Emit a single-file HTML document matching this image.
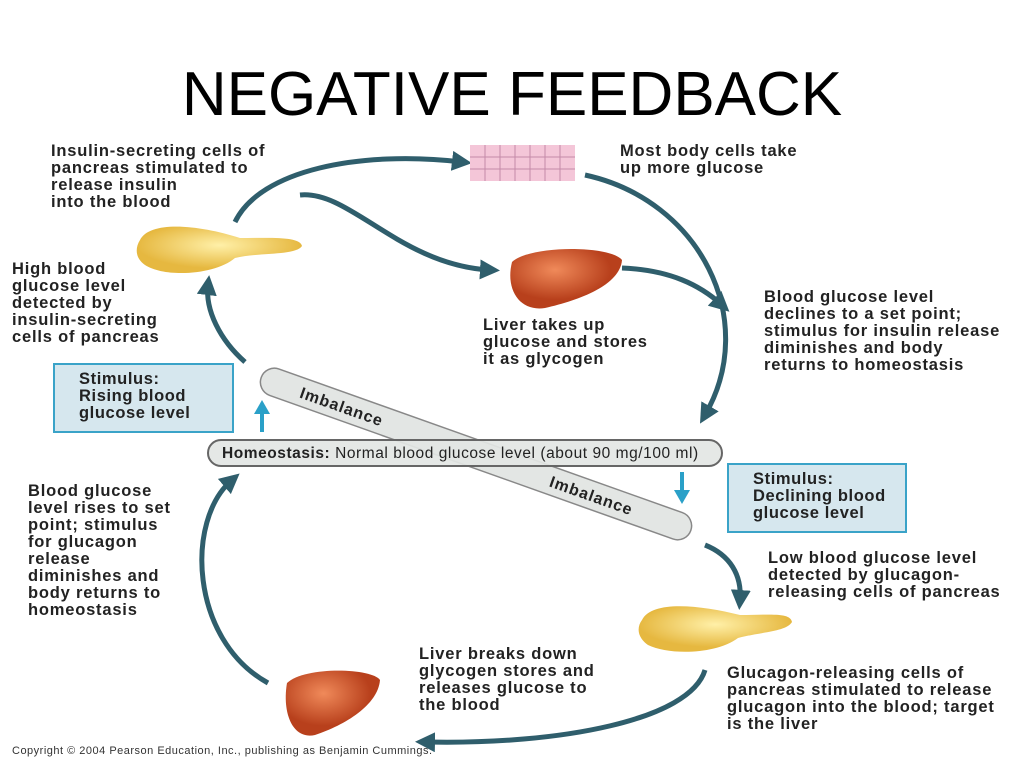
<!DOCTYPE html>
<html><head><meta charset="utf-8"><style>
body{margin:0;width:1024px;height:768px;background:#fff;overflow:hidden;position:relative;font-family:"Liberation Sans",sans-serif}
.t{position:absolute;font-weight:bold;font-size:16.5px;letter-spacing:0.8px;line-height:17px;color:#222;white-space:nowrap}
h1{position:absolute;left:0;width:1024px;top:62px;margin:0;text-align:center;font-weight:normal;font-size:62px;line-height:66px;color:#000}
.box{position:absolute;border:2px solid #3aa3c8;background:#d6e7ee;font-weight:bold;font-size:16.5px;letter-spacing:0.6px;line-height:17px;color:#222;box-sizing:border-box;padding:6px 0 0 24px;white-space:nowrap}
</style></head><body>
<h1>NEGATIVE FEEDBACK</h1>
<svg width="1024" height="768" style="position:absolute;left:0;top:0">
<defs>
<marker id="a" markerWidth="4" markerHeight="4" refX="2" refY="2" orient="auto" markerUnits="strokeWidth"><path d="M0,0 L4,2 L0,4z" fill="#2f5e6c"/></marker>
<radialGradient id="lv" cx="40%" cy="35%"><stop offset="0" stop-color="#f08a5a"/><stop offset="1" stop-color="#b8401c"/></radialGradient>
<radialGradient id="pc" cx="50%" cy="40%"><stop offset="0" stop-color="#fff0a8"/><stop offset="1" stop-color="#e6b840"/></radialGradient>
</defs>
<g fill="none" stroke="#2f5e6c" stroke-width="5" marker-end="url(#a)">
<path d="M235,222 C260,170 360,150 462,162"/>
<path d="M585,175 C700,200 760,320 705,415"/>
<path d="M300,195 C350,190 400,265 490,270"/>
<path d="M622,268 C670,270 700,285 722,305"/>
<path d="M245,362 C220,340 205,310 208,285"/>
<path d="M705,545 C730,555 742,575 740,600"/>
<path d="M705,670 C690,720 560,745 425,742"/>
<path d="M268,683 C190,640 185,520 232,480"/>
</g>
<g transform="rotate(19.6 476 454)">
<rect x="248" y="440" width="456" height="28" rx="14" fill="#e3e6e4" stroke="#888" stroke-width="1.5"/>
<text x="290" y="460" font-family="Liberation Sans" font-weight="bold" font-size="16" letter-spacing="1" fill="#222">Imbalance</text>
<text x="555" y="460" font-family="Liberation Sans" font-weight="bold" font-size="16" letter-spacing="1" fill="#222">Imbalance</text>
</g>
<rect x="208" y="440" width="514" height="26" rx="13" fill="#e3e6e4" stroke="#666" stroke-width="2" fill-opacity="0.92"/>
<text x="222" y="458" font-family="Liberation Sans" font-size="15.5" letter-spacing="0.55" fill="#222"><tspan font-weight="bold">Homeostasis:</tspan> Normal blood glucose level (about 90 mg/100 ml)</text>
<g stroke="#2aa0c8" stroke-width="4" fill="#2aa0c8">
<line x1="262" y1="432" x2="262" y2="412"/><path d="M254,414 L262,400 L270,414z" stroke="none"/>
<line x1="682" y1="472" x2="682" y2="492"/><path d="M674,490 L682,504 L690,490z" stroke="none"/>
</g>
<rect x="470" y="145" width="105" height="36" fill="#f4c6d8"/>
<g stroke="#c48aa8" stroke-width="1" fill="none">
<path d="M470,157 H575 M470,169 H575 M485,145 V181 M500,145 V181 M515,145 V181 M530,145 V181 M545,145 V181 M560,145 V181"/>
</g>
<path d="M140,240 C150,220 200,225 240,238 C270,238 300,236 302,246 C295,256 260,252 235,258 C215,275 165,278 145,265 C135,258 135,248 140,240z" fill="url(#pc)"/>
<path d="M642,620 C652,600 700,605 740,615 C770,615 790,612 792,622 C786,632 760,632 738,638 C715,655 668,655 648,645 C638,638 636,628 642,620z" fill="url(#pc)"/>
<path d="M512,262 C530,245 610,245 622,260 C620,285 580,300 545,308 C520,312 505,290 512,262z" fill="url(#lv)"/>
<path d="M287,683 C305,666 372,668 380,680 C378,705 345,725 315,735 C292,740 282,712 287,683z" fill="url(#lv)"/>
</svg>
<div class="t" style="left:51px;top:143px">Insulin-secreting cells of<br>pancreas stimulated to<br>release insulin<br>into the blood</div>
<div class="t" style="left:620px;top:143px">Most body cells take<br>up more glucose</div>
<div class="t" style="left:12px;top:261px">High blood<br>glucose level<br>detected by<br>insulin-secreting<br>cells of pancreas</div>
<div class="t" style="left:483px;top:317px">Liver takes up<br>glucose and stores<br>it as glycogen</div>
<div class="t" style="left:764px;top:289px">Blood glucose level<br>declines to a set point;<br>stimulus for insulin release<br>diminishes and body<br>returns to homeostasis</div>
<div class="box" style="left:53px;top:363px;width:181px;height:70px">Stimulus:<br>Rising blood<br>glucose level</div>
<div class="box" style="left:727px;top:463px;width:180px;height:70px">Stimulus:<br>Declining blood<br>glucose level</div>
<div class="t" style="left:28px;top:483px">Blood glucose<br>level rises to set<br>point; stimulus<br>for glucagon<br>release<br>diminishes and<br>body returns to<br>homeostasis</div>
<div class="t" style="left:768px;top:550px">Low blood glucose level<br>detected by glucagon-<br>releasing cells of pancreas</div>
<div class="t" style="left:419px;top:646px">Liver breaks down<br>glycogen stores and<br>releases glucose to<br>the blood</div>
<div class="t" style="left:727px;top:665px">Glucagon-releasing cells of<br>pancreas stimulated to release<br>glucagon into the blood; target<br>is the liver</div>
<div style="position:absolute;left:12px;top:745px;font-size:11px;letter-spacing:0.5px;color:#333;white-space:nowrap">Copyright © 2004 Pearson Education, Inc., publishing as Benjamin Cummings.</div>
</body></html>
